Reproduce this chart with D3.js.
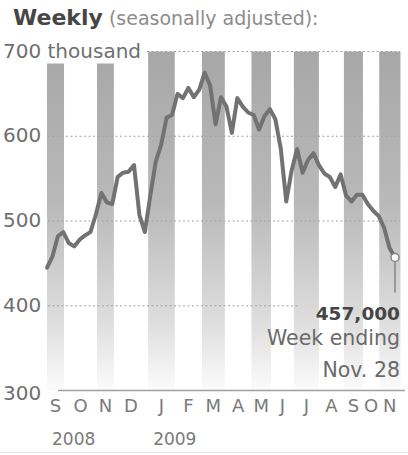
<!DOCTYPE html>
<html><head><meta charset="utf-8">
<script src="https://cdn.jsdelivr.net/npm/d3@7"></script>
<style>
body{margin:0;background:#fff;}
svg{display:block;font-family:"DejaVu Sans",sans-serif;}
</style>
</head><body>
<svg id="c" width="408" height="455"></svg>
<script>
// Weekly initial jobless claims, thousands (week ending Sep 6, 2008 ... Nov 28, 2009)
const claims = [
  445, 458, 482, 487, 474, 470, 478, 483, 487, 508,
  533, 522, 520, 552, 557, 558, 566, 507, 487, 530,
  570, 590, 622, 625, 650, 645, 657, 646, 655, 675,
  660, 614, 646, 635, 604, 645, 635, 628, 625, 608,
  624, 632, 620, 585, 523, 560, 585, 557, 572, 580,
  566, 556, 552, 540, 555, 530, 523, 531, 531, 520,
  512, 506, 492, 468, 457
];
const monthLabels = ["S","O","N","D","J","F","M","A","M","J","J","A","S","O","N"];
// month boundaries, in weeks from the first point
const monthEdges = [0, 3.13, 9.2, 12.3, 18.6, 23.5, 28.5, 32.7, 37.6, 41.2, 45.4, 50.0, 54.6, 58.1, 61.1, 65.0];
const yearLabels = [{text:"2008", month:0}, {text:"2009", month:4}];
const yTicks = [300, 400, 500, 600, 700];
const yUnit = " thousand";
const titleMain = "Weekly";
const titleSub = " (seasonally adjusted):";
const lastValueLabel = "457,000";
const lastNote = ["Week ending", "Nov. 28"];

const svg = d3.select("#c");
const W = 408, H = 455;
const x = d3.scaleLinear().domain([0, claims.length - 1]).range([47, 395]);
const y = d3.scaleLinear().domain([300, 700]).range([390.5, 51.5]);

// gradient for month bands
const defs = svg.append("defs");
const grad = defs.append("linearGradient").attr("id", "bandGrad")
  .attr("gradientUnits", "userSpaceOnUse")
  .attr("x1", 0).attr("x2", 0).attr("y1", y(700)).attr("y2", y(300));
grad.append("stop").attr("offset", 0).attr("stop-color", "#a7a7a7");
grad.append("stop").attr("offset", 0.45).attr("stop-color", "#b9b9b9");
grad.append("stop").attr("offset", 0.8).attr("stop-color", "#dedede");
grad.append("stop").attr("offset", 1).attr("stop-color", "#fbfbfb");

// title
const title = svg.append("text").attr("x", 13).attr("y", 25);
title.append("tspan").text(titleMain).attr("font-weight", "bold").attr("font-size", 22).attr("fill", "#464646");
title.append("tspan").text(titleSub).attr("font-size", 19).attr("fill", "#8c8c8c");

// y tick labels
const yLab = svg.append("g").selectAll("text").data(yTicks).join("text")
  .attr("x", 3).attr("y", d => y(d) + (d === 300 ? 2 : -1))
  .attr("dominant-baseline", "central")
  .attr("font-size", 20).attr("fill", "#6f6f6f")
  .text(d => d === 700 ? d + yUnit : d);
const topLabelRight = 3 + yLab.filter(d => d === 700).node().getComputedTextLength();

// month bands (alternate months shaded)
const bands = monthLabels.map((m, i) => ({i, x0: monthEdges[i], x1: monthEdges[i + 1]}))
  .filter(d => d.i % 2 === 0);
svg.append("g").selectAll("rect").data(bands).join("rect")
  .attr("x", d => x(d.x0))
  .attr("width", d => x(d.x1) - x(d.x0))
  .attr("y", d => x(d.x0) < topLabelRight ? y(700) + 12 : y(700))
  .attr("height", d => y(300) - (x(d.x0) < topLabelRight ? y(700) + 12 : y(700)))
  .attr("fill", "url(#bandGrad)");

// dotted gridlines
svg.append("g").selectAll("line").data(yTicks.filter(t => t > 300)).join("line")
  .attr("x1", d => d === 700 ? topLabelRight + 6 : 48)
  .attr("x2", d => d === 400 ? 300 : 400)
  .attr("y1", d => y(d)).attr("y2", d => y(d))
  .attr("stroke", "#a3a3a3").attr("stroke-width", 1.2)
  .attr("stroke-dasharray", "2,2.5");

// baseline
svg.append("line").attr("x1", 58).attr("x2", 405).attr("y1", y(300)).attr("y2", y(300))
  .attr("stroke", "#a0a0a0").attr("stroke-width", 1.5);

// line
const line = d3.line().x((d, i) => x(i)).y(d => y(d)).curve(d3.curveLinear);
svg.append("path").datum(claims).attr("d", line)
  .attr("fill", "none").attr("stroke", "#727272").attr("stroke-width", 4)
  .attr("stroke-linejoin", "round").attr("stroke-linecap", "round");

// end marker + leader
const li = claims.length - 1;
svg.append("line").attr("x1", x(li)).attr("x2", x(li))
  .attr("y1", y(claims[li]) + 4).attr("y2", y(claims[li]) + 35)
  .attr("stroke", "#858585").attr("stroke-width", 1.5);
svg.append("circle").attr("cx", x(li)).attr("cy", y(claims[li])).attr("r", 4)
  .attr("fill", "#fff").attr("stroke", "#858585").attr("stroke-width", 1.5);

// annotation
const ann = svg.append("g").attr("text-anchor", "end");
ann.append("text").attr("x", 400).attr("y", 320).attr("font-size", 18.5)
  .attr("font-weight", "bold").attr("fill", "#454545").text(lastValueLabel);
ann.selectAll("text.note").data(lastNote).join("text").attr("class", "note")
  .attr("x", 400).attr("y", (d, i) => 345 + i * 32).attr("font-size", 20.5)
  .attr("fill", "#6a6a6a").text(d => d);

// month labels
svg.append("g").selectAll("text").data(monthLabels).join("text")
  .attr("x", (d, i) => x((monthEdges[i] + monthEdges[i + 1]) / 2))
  .attr("y", 412).attr("text-anchor", "middle")
  .attr("font-size", 18).attr("fill", "#7a7a7a").text(d => d);

// year labels
svg.append("g").selectAll("text").data(yearLabels).join("text")
  .attr("x", d => x(monthEdges[d.month]) + 5).attr("y", 445)
  .attr("font-size", 17).attr("fill", "#7a7a7a").text(d => d.text);

// bottom rule
svg.append("line").attr("x1", 0).attr("x2", W).attr("y1", 452.5).attr("y2", 452.5)
  .attr("stroke", "#e2e2e2").attr("stroke-width", 1);
</script>
</body></html>
